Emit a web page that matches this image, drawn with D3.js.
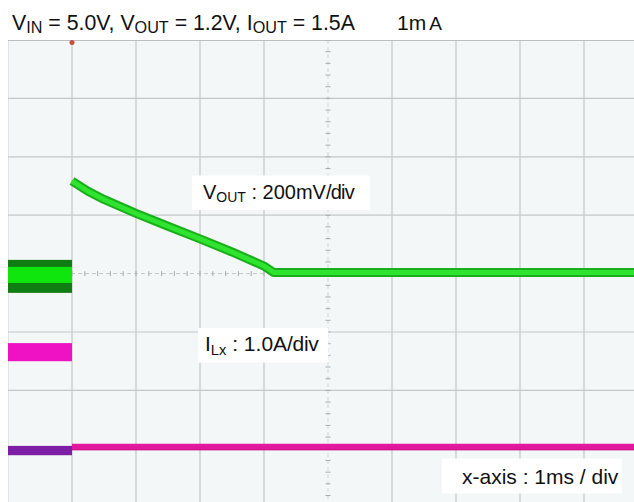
<!DOCTYPE html>
<html>
<head>
<meta charset="utf-8">
<script src="https://cdn.jsdelivr.net/npm/d3@7"></script>
<style>
  html, body { margin: 0; padding: 0; background: #ffffff; }
  svg { display: block; }
  text { font-family: "Liberation Sans", Arial, sans-serif; fill: #111; }
</style>
</head>
<body>
<svg id="chart" width="634" height="502"></svg>
<script>
// Scope graticule: 10 horizontal divisions of 1 ms, 8 vertical divisions
const timeDivs = d3.range(0, 11);          // ms
const vertDivs = d3.range(-4, 5);          // divisions from screen centre

// V_OUT channel: 200 mV/div, screen centre at 1.196 V
const voutPerDiv = 0.2;
const voutCentre = 1.196;
const voutTime  = [1.0, 1.25, 1.5, 2.0, 2.5, 3.0, 3.5, 4.0, 4.15, 10.0];
const voutVolts = [1.513, 1.478, 1.450, 1.402, 1.358, 1.315, 1.270, 1.222, 1.200, 1.200];
const voutPreTime  = [0, 1.0];
const voutPreOuter = [1.130, 1.243];
const voutPreInner = [1.164, 1.219];

// I_Lx channel: 1.0 A/div, zero level at -2.97 div
const ilxPerDiv = 1.0;
const ilxZeroDiv = -2.97;
const ilxTime = [1.0, 10.0];
const ilxAmps = [0, 0];
const ilxPreTime = [0, 1.0];
const ilxPreBand = [1.47, 1.78];
const refPreBand = [-0.14, 0.02];

const triggerTime = 1.0;

const svg = d3.select("#chart");
const W = 634, H = 502;

const x = d3.scaleLinear().domain([0, 10]).range([8, 648]);
const yDiv = d3.scaleLinear().domain([-4, 4]).range([40 + 8 * 58.4, 40]);
const yV = v => yDiv((v - voutCentre) / voutPerDiv);
const yI = a => yDiv(ilxZeroDiv + a / ilxPerDiv);

svg.append("defs").append("clipPath").attr("id", "plotClip")
  .append("rect").attr("x", x(0)).attr("y", yDiv(4)).attr("width", W - x(0)).attr("height", H - yDiv(4));

const plot = svg.append("g").attr("clip-path", "url(#plotClip)");

// screen background
plot.append("rect")
  .attr("x", x(0)).attr("y", yDiv(4))
  .attr("width", x(10) - x(0)).attr("height", yDiv(-4) - yDiv(4))
  .attr("fill", "#f4f7f7");

// graticule lines
plot.append("g").selectAll("line").data(timeDivs.filter(d => d !== 5)).join("line")
  .attr("x1", d => x(d)).attr("x2", d => x(d))
  .attr("y1", yDiv(4)).attr("y2", yDiv(-4))
  .attr("stroke", d => d === 0 ? "#d6d9d9" : "#c4c7c7").attr("stroke-width", 1.2);
plot.append("g").selectAll("line").data(vertDivs.filter(d => d !== 0)).join("line")
  .attr("x1", x(0)).attr("x2", x(10))
  .attr("y1", d => yDiv(d)).attr("y2", d => yDiv(d))
  .attr("stroke", d => d === 4 ? "#a9acac" : "#c4c7c7").attr("stroke-width", d => d === 4 ? 1.6 : 1.2);

// centre axes with minor ticks every 0.2 div
plot.append("line")
  .attr("x1", x(0)).attr("x2", x(10)).attr("y1", yDiv(0)).attr("y2", yDiv(0))
  .attr("stroke", "#c4c7c7").attr("stroke-width", 1).attr("stroke-dasharray", "4,3");
plot.append("line")
  .attr("x1", x(5)).attr("x2", x(5)).attr("y1", yDiv(4)).attr("y2", yDiv(-4))
  .attr("stroke", "#d2d5d5").attr("stroke-width", 1).attr("stroke-dasharray", "4,3");
const minorT = d3.range(0, 10.001, 0.2);
const minorV = d3.range(-4, 4.001, 0.2);
plot.append("g").selectAll("line").data(minorT).join("line")
  .attr("x1", d => x(d)).attr("x2", d => x(d))
  .attr("y1", yDiv(0) - 2.5).attr("y2", yDiv(0) + 2.5)
  .attr("stroke", "#a9acac").attr("stroke-width", 1);
plot.append("g").selectAll("line").data(minorV).join("line")
  .attr("x1", x(5) - 2.5).attr("x2", x(5) + 2.5)
  .attr("y1", d => yDiv(d)).attr("y2", d => yDiv(d))
  .attr("stroke", "#a9acac").attr("stroke-width", 1);

// trigger marker
plot.append("circle")
  .attr("cx", x(triggerTime)).attr("cy", yDiv(4) + 2.5).attr("r", 2.5)
  .attr("fill", "#c9503f");

// V_OUT pre-trigger noise band
plot.append("rect")
  .attr("x", x(voutPreTime[0])).attr("width", x(voutPreTime[1]) - x(voutPreTime[0]))
  .attr("y", yV(voutPreOuter[1])).attr("height", yV(voutPreOuter[0]) - yV(voutPreOuter[1]))
  .attr("fill", "#0f7d12");
plot.append("rect")
  .attr("x", x(voutPreTime[0])).attr("width", x(voutPreTime[1]) - x(voutPreTime[0]))
  .attr("y", yV(voutPreInner[1])).attr("height", yV(voutPreInner[0]) - yV(voutPreInner[1]))
  .attr("fill", "#0ee60e");

// I_Lx pre-trigger band and reference band
plot.append("rect")
  .attr("x", x(ilxPreTime[0])).attr("width", x(ilxPreTime[1]) - x(ilxPreTime[0]))
  .attr("y", yI(ilxPreBand[1])).attr("height", yI(ilxPreBand[0]) - yI(ilxPreBand[1]))
  .attr("fill", "#ee12c4");
plot.append("rect")
  .attr("x", x(ilxPreTime[0])).attr("width", x(ilxPreTime[1]) - x(ilxPreTime[0]))
  .attr("y", yI(refPreBand[1])).attr("height", yI(refPreBand[0]) - yI(refPreBand[1]))
  .attr("fill", "#7c1fa6");

// I_Lx trace
const ilxLine = d3.line().x((d, i) => x(ilxTime[i])).y(d => yI(d));
plot.append("path").datum(ilxAmps)
  .attr("d", ilxLine).attr("fill", "none")
  .attr("stroke", "#e3189f").attr("stroke-width", 6.5);
plot.append("path").datum(ilxAmps)
  .attr("d", ilxLine).attr("fill", "none")
  .attr("transform", "translate(0,2.5)")
  .attr("stroke", "#b8127e").attr("stroke-width", 1.2).attr("stroke-opacity", 0.6);

// V_OUT trace
const voutLine = d3.line().x((d, i) => x(voutTime[i])).y(d => yV(d));
plot.append("path").datum(voutVolts)
  .attr("d", voutLine).attr("fill", "none")
  .attr("stroke", "#1aae1c").attr("stroke-width", 9).attr("stroke-linejoin", "round");
plot.append("path").datum(voutVolts)
  .attr("d", voutLine).attr("fill", "none")
  .attr("stroke", "#2fe42f").attr("stroke-width", 5).attr("stroke-linejoin", "round");

// text helper: main + subscript + rest (+ optional tight tail)
function richLabel(g, px, py, parts, size, subScale) {
  const t = g.append("text").attr("x", px).attr("y", py).attr("font-size", size);
  parts.forEach(p => {
    const s = t.append("tspan").text(p.t);
    if (p.sub) s.attr("font-size", size * subScale).attr("dy", 3.5);
    if (p.after) s.attr("dy", -3.5);
    if (p.tight) s.attr("letter-spacing", p.tight);
  });
  return t;
}
function boxed(px, py, parts, size, subScale, pad) {
  const g = svg.append("g");
  const bg = g.append("rect").attr("fill", "#ffffff");
  const t = richLabel(g, px, py, parts, size, subScale);
  const b = t.node().getBBox();
  bg.attr("x", b.x - pad[0]).attr("y", b.y - pad[1])
    .attr("width", b.width + pad[0] + pad[2]).attr("height", b.height + pad[1] + pad[3]);
  return g;
}

// title
richLabel(svg, 12, 29.5, [
  { t: "V" }, { t: "IN", sub: true }, { t: " = 5.0V, ", after: true },
  { t: "V" }, { t: "OUT", sub: true }, { t: " = 1.2V, ", after: true },
  { t: "I" }, { t: "OUT", sub: true }, { t: " = 1.5A", after: true }
], 21.3, 0.76);
svg.append("text").attr("x", 397).attr("y", 29.5).attr("font-size", 21)
  .text("1m").append("tspan").attr("dx", 3).attr("font-size", 19).text("A");

// channel labels
boxed(203, 198.5, [
  { t: "V" }, { t: "OUT", sub: true }, { t: " : 200mV", after: true }, { t: "/div", tight: -0.8 }
], 20, 0.7, [11, 5, 15, 5]);
boxed(205, 351, [
  { t: "I" }, { t: "Lx", sub: true }, { t: " : 1.0A", after: true }, { t: "/div", tight: -0.3 }
], 21, 0.7, [7, 4, 9, 5]);
boxed(462, 483.5, [{ t: "x-axis : 1ms / div" }], 21, 0.7, [20, 6, 3, 6]);
</script>
</body>
</html>
